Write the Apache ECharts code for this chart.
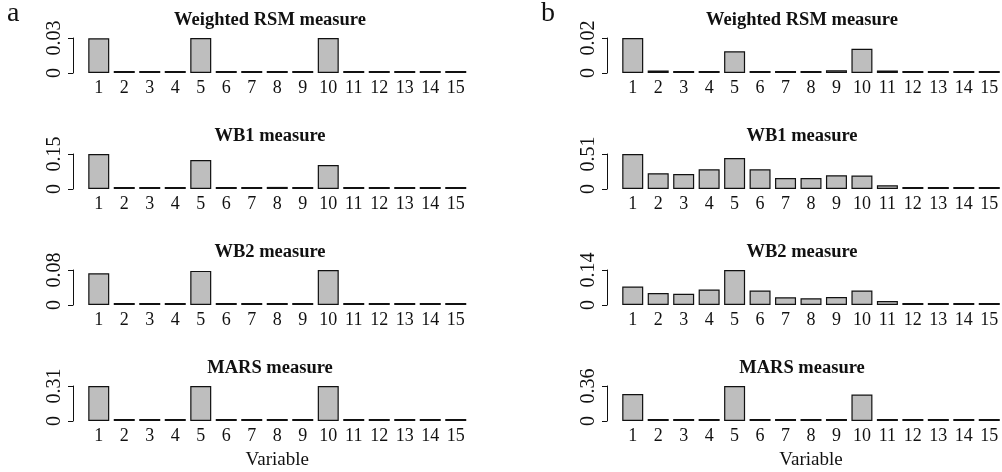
<!DOCTYPE html>
<html>
<head>
<meta charset="utf-8">
<script src="https://cdn.jsdelivr.net/npm/echarts@6/dist/echarts.min.js"></script>
<style>
  html, body { margin: 0; padding: 0; background: #fff; }
  #chart { width: 1002px; height: 472px; }
</style>
</head>
<body>
<div id="chart"></div>
<script>
// variable indices on the x axis
const categories = ['1', '2', '3', '4', '5', '6', '7', '8', '9', '10', '11', '12', '13', '14', '15'];
const titles = ['Weighted RSM measure', 'WB1 measure', 'WB2 measure', 'MARS measure'];

// panel a
const rsmA = [0.0297, 0.0008, 0.0008, 0.0008, 0.03, 0.0008, 0.0008, 0.0008, 0.0008, 0.03, 0.0008, 0.0008, 0.0008, 0.0008, 0.0008];
const wb1A = [0.15, 0.005, 0.005, 0.003, 0.124, 0.003, 0.003, 0.009, 0.006, 0.103, 0.003, 0.005, 0.007, 0.003, 0.003];
const wb2A = [0.0725, 0.002, 0.002, 0.002, 0.078, 0.002, 0.002, 0.002, 0.002, 0.08, 0.002, 0.002, 0.002, 0.002, 0.002];
const marsA = [0.31, 0.008, 0.008, 0.008, 0.31, 0.008, 0.008, 0.008, 0.008, 0.31, 0.008, 0.008, 0.008, 0.008, 0.008];
const topTicksA = [0.03, 0.15, 0.08, 0.31];
const topLabelsA = ['0.03', '0.15', '0.08', '0.31'];

// panel b
const rsmB = [0.02, 0.0014, 0.001, 0.001, 0.0124, 0.0008, 0.0008, 0.0008, 0.0016, 0.0138, 0.0014, 0.0008, 0.0008, 0.0008, 0.0008];
const wb1B = [0.51, 0.23, 0.219, 0.287, 0.45, 0.287, 0.16, 0.16, 0.2, 0.196, 0.054, 0.012, 0.012, 0.025, 0.022];
const wb2B = [0.074, 0.048, 0.045, 0.062, 0.14, 0.058, 0.031, 0.027, 0.032, 0.058, 0.016, 0.004, 0.003, 0.003, 0.003];
const marsB = [0.278, 0.007, 0.005, 0.007, 0.36, 0.005, 0.005, 0.005, 0.005, 0.272, 0.005, 0.005, 0.005, 0.005, 0.005];
const topTicksB = [0.02, 0.51, 0.14, 0.36];
const topLabelsB = ['0.02', '0.51', '0.14', '0.36'];

const FONT = "'Liberation Serif', 'DejaVu Serif', serif";
const chart = echarts.init(document.getElementById('chart'), null, { renderer: 'canvas' });

const panels = [
  { left: 86, titleX: 270, rows: [rsmA, wb1A, wb2A, marsA], ticks: topTicksA, labels: topLabelsA },
  { left: 620, titleX: 802, rows: [rsmB, wb1B, wb2B, marsB], ticks: topTicksB, labels: topLabelsB },
];
const rowTops = [38, 154, 270, 386];
const rowHeight = 35;
const gridWidth = 382.5;

const grid = [], xAxis = [], yAxis = [], series = [], title = [];
let k = 0;
panels.forEach((p) => {
  p.rows.forEach((values, r) => {
    const top = p.ticks[r];
    const lab = p.labels[r];
    grid.push({ left: p.left, top: rowTops[r], width: gridWidth, height: rowHeight });
    xAxis.push({
      type: 'category',
      gridIndex: k,
      data: categories,
      axisLine: { show: false },
      axisTick: { show: false },
      axisLabel: { color: '#111', fontFamily: FONT, fontSize: 18, margin: 6, interval: 0 },
      name: r === 3 ? 'Variable' : '',
      nameLocation: 'middle',
      nameGap: 30,
      nameTextStyle: { color: '#111', fontFamily: FONT, fontSize: 19 },
    });
    yAxis.push({
      type: 'value',
      gridIndex: k,
      min: 0,
      max: top,
      interval: top,
      offset: 13,
      splitLine: { show: false },
      axisLine: { show: true, lineStyle: { color: '#111', width: 1 } },
      axisTick: { show: true, length: 5, lineStyle: { color: '#111' } },
      axisLabel: {
        color: '#111', fontFamily: FONT, fontSize: 20, rotate: 90,
        align: 'center', verticalAlign: 'bottom', margin: 8,
        formatter: (v) => (v === 0 ? '0' : lab),
      },
    });
    series.push({
      type: 'bar',
      xAxisIndex: k,
      yAxisIndex: k,
      data: values,
      barWidth: 21,
      barMinHeight: 2,
      itemStyle: { color: '#bebebe', borderColor: '#111', borderWidth: 1.2 },
      silent: true,
    });
    title.push({
      text: titles[r],
      left: p.titleX,
      top: rowTops[r] - 18,
      textAlign: 'center',
      textVerticalAlign: 'middle',
      padding: 0,
      textStyle: { fontFamily: FONT, fontSize: 18.5, fontWeight: 'bold', color: '#111' },
    });
    k++;
  });
});

chart.setOption({
  backgroundColor: '#fff',
  animation: false,
  title,
  grid,
  xAxis,
  yAxis,
  series,
  graphic: [
    { type: 'text', left: 7, top: 0, style: { text: 'a', fontFamily: FONT, fontSize: 28, fill: '#111' } },
    { type: 'text', left: 541, top: 0, style: { text: 'b', fontFamily: FONT, fontSize: 28, fill: '#111' } },
  ],
});
</script>
</body>
</html>
